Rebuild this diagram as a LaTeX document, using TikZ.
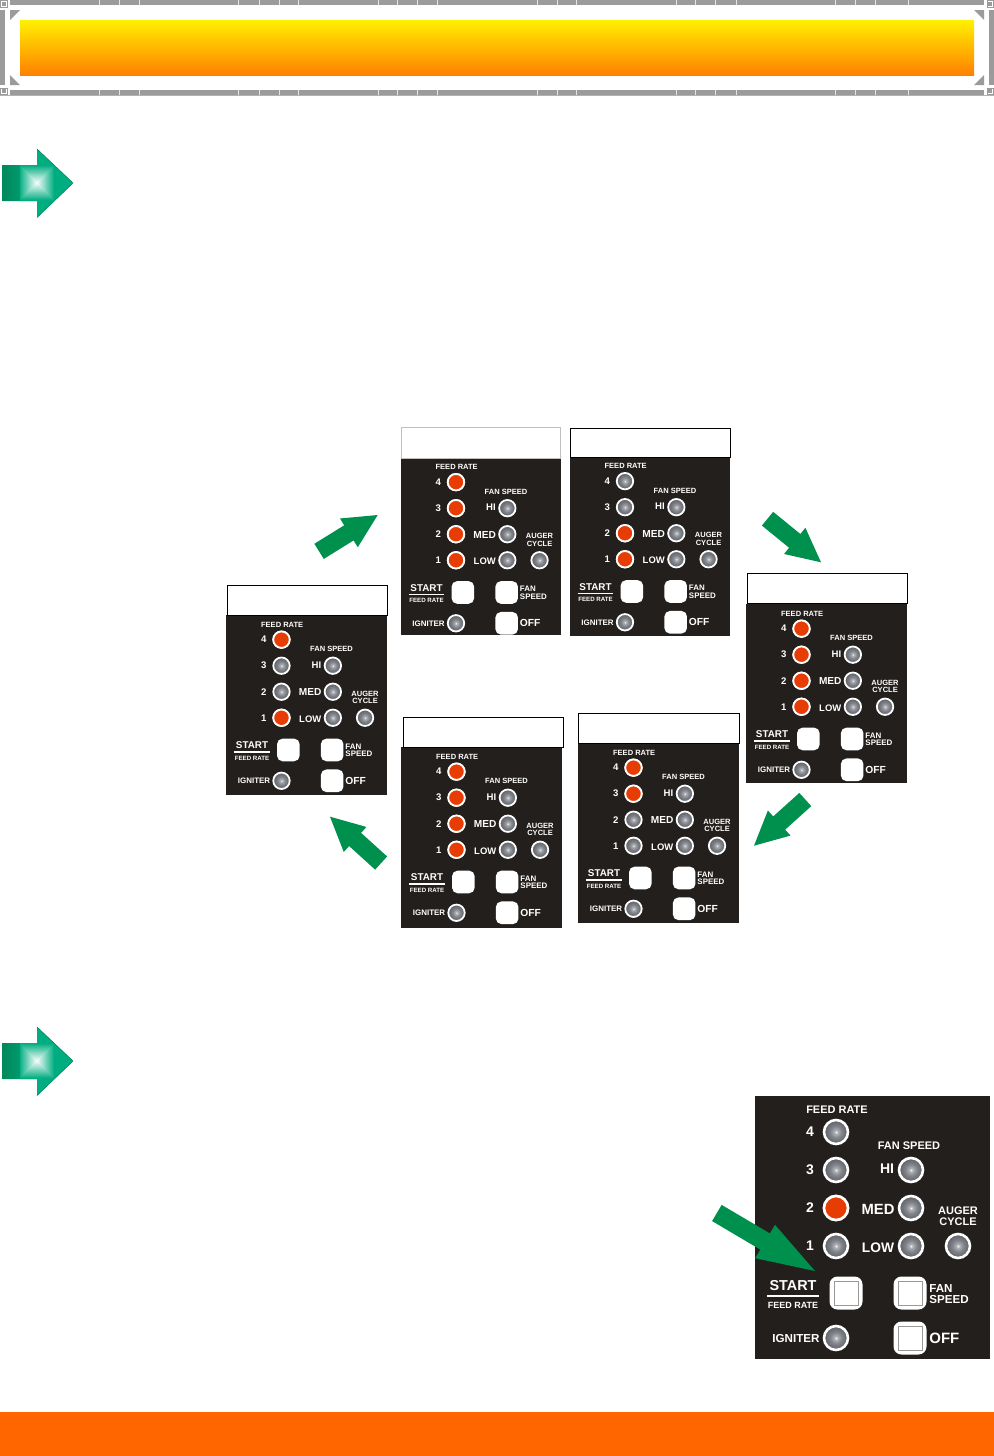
\documentclass[tikz,border=0pt]{standalone}
\usepackage{fontspec}
\setmainfont{Liberation Sans}
\usepackage{xcolor}
\usetikzlibrary{shapes.arrows}
\definecolor{framegrey}{HTML}{9B9B9B}
\definecolor{framelight}{HTML}{E6E6E6}
\definecolor{frameedge}{HTML}{F0A070}
\definecolor{panelblack}{HTML}{231F1C}
\definecolor{ledred}{HTML}{E83C05}
\definecolor{ledmid}{HTML}{80848A}
\definecolor{leddark}{HTML}{34363A}
\definecolor{arrowgreen}{HTML}{00904E}
\definecolor{bulletgreen}{HTML}{00AD80}
\definecolor{bulletdark}{HTML}{00895A}
\definecolor{bannertop}{HTML}{FFF000}
\definecolor{bannerlow}{HTML}{FF8000}
\definecolor{footorange}{HTML}{FF6600}
\pgfdeclareradialshading{ledglow}{\pgfpointorigin}{color(0bp)=(white); color(3bp)=(ledmid!60!white); color(12bp)=(ledmid); color(40bp)=(leddark); color(50bp)=(leddark)}
\tikzset{
	lbl/.style={text=white, font=\bfseries\fontsize{#1}{#1}\selectfont, inner sep=0pt, transform shape},
	bigarrow/.style={single arrow, fill=arrowgreen, anchor=tip, inner sep=0pt, outer sep=0pt, text height=8.5pt, text depth=0pt, minimum height=34.5pt, minimum width=16.5pt, single arrow head extend=4pt, single arrow tip angle=53},
	titlebox/.style={draw=black, line width=0.4pt, fill=white},
}
% one control panel: name, corner, scale, lit lamps, height
\def\panel#1#2#3#4#5{
	\begin{scope}[shift={#2}, scale=#3, name prefix=#1-]
		\fill[panelblack] (0,0) rectangle (235,#5);
		\node[lbl=5.5] (feed) at (82,14) {FEED RATE};
		\foreach \n/\y in {4/36,3/74,2/112,1/150} {
			\node[lbl=7] (num\n) at (55,\y) {\n};
			\draw[white, line width=#3*1.3pt, shading=ledglow] (81,\y) circle (12);
		}
		\foreach \y in {#4} {
			\draw[white, fill=ledred, line width=#3*1.3pt] (81,\y) circle (12);
		}
		\node[lbl=5.5] (fan) at (154,50) {FAN SPEED};
		\foreach \t/\x/\y/\l/\s in {HI/132/73/74/7,MED/123/113/112/7.4,LOW/123/152/150/6.9} {
			\node[lbl=\s] (lab\t) at (\x,\y) {\t};
			\draw[white, line width=#3*1.3pt, shading=ledglow] (156,\l) circle (12);
		}
		\node[lbl=5.5] (auger) at (203,115) {AUGER};
		\node[lbl=5.5] (cycle) at (203,126) {CYCLE};
		\draw[white, line width=#3*1.3pt, shading=ledglow] (203,150) circle (12);
		\node[lbl=7.2] (start) at (38,190) {START};
		\draw[white, line width=#3*1pt] (12,200) -- (64,200);
		\node[lbl=4.5] (rate) at (38,209) {FEED RATE};
		\node[lbl=5.8, anchor=west] (fanb) at (174,192) {FAN};
		\node[lbl=5.8, anchor=west] (speedb) at (174,203) {SPEED};
		\node[lbl=5.8] (igniter) at (41,242) {IGNITER};
		\draw[white, line width=#3*1.3pt, shading=ledglow] (81,242) circle (12);
		\node[lbl=7.5, anchor=west] (off) at (174,242) {OFF};
		\foreach \x/\y in {91/197,155/197,155/242} {
			\fill[white, rounded corners=#3*4pt] (\x-16.5,\y-16.5) rectangle (\x+16.5,\y+16.5);
		}
	\end{scope}
}
% lit green pointer at the start of a step
\def\pointer#1{
	\begin{scope}[yshift=#1]
		\begin{scope}
			\clip (2.5,165) -- (37,165) -- (37,149) -- (73,183) -- (37,217.5) -- (37,201) -- (2.5,201) -- cycle;
			\shade[left color=bulletdark, middle color=bulletgreen, right color=bulletgreen] (2.5,149) rectangle (40,218);
			\fill[bulletgreen] (20,149) rectangle (73,218);
			\foreach \h in {17,16,...,1} {
				\pgfmathsetmacro\m{100*(1-\h/18)}
				\fill[white!\m!bulletgreen] (37-\h,183-\h) rectangle (37+\h,183+\h);
			}
		\end{scope}
		\draw[bulletdark, line width=0.3pt] (37,149) -- (73,183) -- (37,217.5);
	\end{scope}
}

\begin{document}
\begin{tikzpicture}[x=0.5pt, y=-0.5pt]
	\useasboundingbox (0,0) rectangle (994,1456);
	\fill[white] (0,0) rectangle (994,1456);
	% banner
	\fill[framegrey] (10,0) rectangle (984,4.5);
	\fill[framegrey] (10,90) rectangle (984,95);
	\fill[framegrey] (0,10) rectangle (5,85);
	\fill[framegrey] (989,10) rectangle (994,85);
	\draw[frameedge, line width=0.4pt] (0,95.6) -- (994,95.6);
	\foreach \x in {99,119,139,238,259,279,298,378,397,417,437,537,557,576,676,695,715,736,835,855,875,908} {
		\draw[framelight, line width=0.35pt] (\x,0) -- (\x,4.5);
		\draw[framelight, line width=0.35pt] (\x,90) -- (\x,95);
	}
	\foreach \x/\y in {0/0,986.5/0,0/87.5,986.5/87.5} {
		\draw[framegrey, line width=0.4pt] (\x+0.5,\y+0.5) rectangle (\x+7,\y+7);
		\fill[framegrey] (\x+1.5,\y+1.5) rectangle (\x+5.5,\y+5.5);
	}
	\fill[framegrey] (10,10) -- (20,10) -- (10,20) -- cycle;
	\fill[framegrey] (984,10) -- (974,10) -- (984,20) -- cycle;
	\fill[framegrey] (10,85) -- (20,85) -- (10,75) -- cycle;
	\fill[framegrey] (984,85) -- (974,85) -- (984,75) -- cycle;
	\shade[top color=bannertop, bottom color=bannerlow] (20,20) rectangle (974,75);
	\pointer{0pt}
	\pointer{-439pt}
	% the six lamp patterns
	\panel{pa}{(226,615)}{0.685}{36,150}{263}
	\panel{pb}{(400.5,457.5)}{0.685}{36,74,112,150}{259}
	\panel{pc}{(569.5,456.5)}{0.685}{112,150}{262}
	\panel{pd}{(746,604)}{0.685}{36,74,112,150}{262}
	\panel{pe}{(578,743)}{0.685}{36,74}{263}
	\panel{pf}{(401,747)}{0.685}{36,74,112,150}{264}
	\draw[titlebox] (227,585) rectangle (387,615);
	\draw[titlebox, draw=black!25] (401,427) rectangle (560,458);
	\draw[titlebox] (570,428) rectangle (730,457);
	\draw[titlebox] (747,573) rectangle (907,603);
	\draw[titlebox] (578,713) rectangle (739,743);
	\draw[titlebox] (403,717) rectangle (563,747);
	\node[bigarrow, rotate=31.8] (turna) at (377.7,515) {};
	\node[bigarrow, rotate=-39.2] (turnb) at (821,562.3) {};
	\node[bigarrow, rotate=222] (turnc) at (754,845.7) {};
	\node[bigarrow, rotate=137.8] (turnd) at (330,816.7) {};
	% large panel
	\panel{big}{(755,1096)}{1}{112}{263}
	\foreach \x/\y in {91/197,155/197,155/242} {
		\draw[black!40, line width=0.3pt] (755+\x-12,1096+\y-12) rectangle (755+\x+12,1096+\y+12);
	}
	\node[bigarrow, rotate=-30.6, text height=9pt, minimum height=57pt, minimum width=19pt, single arrow head extend=5pt, single arrow tip angle=37] (press) at (815,1271) {};
	\fill[footorange] (0,1412) rectangle (994,1456);
\end{tikzpicture}
\end{document}
